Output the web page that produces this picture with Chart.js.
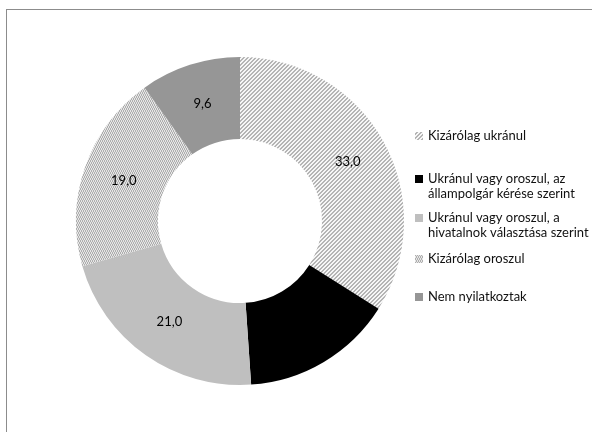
<!DOCTYPE html>
<html>
<head>
<meta charset="utf-8">
<script src="https://cdn.jsdelivr.net/npm/chart.js@4"></script>
<style>
  html, body { margin: 0; padding: 0; background: #fff; }
  #wrap { position: relative; width: 592px; height: 432px; overflow: hidden; }
  #frame { position: absolute; left: 6px; top: 9px; width: 620px; height: 460px; border: 1px solid #8c8c8c; box-sizing: border-box; }
  canvas { position: absolute; left: 0; top: 0; }
</style>
</head>
<body>
<div id="wrap">
  <div id="frame"></div>
  <canvas id="langChart" width="592" height="432"></canvas>
</div>
<script>
// nyelvhasználat megoszlása (%)
var categories = [
    'Kizárólag ukránul',
    ['Ukránul vagy oroszul, az', 'állampolgár kérése szerint'],
    ['Ukránul vagy oroszul, a', 'hivatalnok választása szerint'],
    'Kizárólag oroszul',
    'Nem nyilatkoztak'
];
var values = [33.0, 14.5, 21.0, 19.0, 9.6];

// legend row positions (y of first text line)
var legendRows = [136, 179, 218, 259, 297];

function makePattern(size, paint) {
    var c = document.createElement('canvas');
    c.width = size; c.height = size;
    var g = c.getContext('2d');
    for (var y = 0; y < size; y++) {
        for (var x = 0; x < size; x++) {
            g.fillStyle = paint(x, y);
            g.fillRect(x, y, 1, 1);
        }
    }
    return g.createPattern(c, 'repeat');
}

var ctx = document.getElementById('langChart').getContext('2d');

// upward diagonal stripes
var diagFill = makePattern(8, function (x, y) {
    return ((x + y) % 4 < 2) ? '#b4b4b4' : '#f6f6f6';
});
// fine vertical weave
var vertFill = makePattern(4, function (x, y) {
    var shift = (y % 4 < 2) ? 0 : 1;
    return ((x + shift) % 2 === 0) ? '#aeaeae' : '#e6e6e6';
});

var fills = [diagFill, '#000000', '#bfbfbf', vertFill, '#969696'];

var labelPlugin = {
    id: 'sliceLabels',
    afterDatasetsDraw: function (chart) {
        var c = chart.ctx;
        var meta = chart.getDatasetMeta(0);
        c.save();
        c.font = '13px Lato, "Open Sans", sans-serif';
        c.fillStyle = '#000';
        c.textAlign = 'center';
        c.textBaseline = 'middle';
        meta.data.forEach(function (arc, i) {
            var p = arc.tooltipPosition();
            c.fillText(values[i].toFixed(1).replace('.', ','), p.x, p.y);
        });
        c.restore();
    }
};

var legendPlugin = {
    id: 'sideLegend',
    afterDraw: function (chart) {
        var c = chart.ctx;
        c.save();
        c.font = '13px Lato, "Open Sans", sans-serif';
        c.textBaseline = 'middle';
        c.textAlign = 'left';
        chart.data.labels.forEach(function (lab, i) {
            var lines = Array.isArray(lab) ? lab : [lab];
            var y = legendRows[i];
            c.fillStyle = chart.data.datasets[0].backgroundColor[i];
            c.fillRect(415, y - 4, 8, 8);
            c.fillStyle = '#111';
            lines.forEach(function (t, k) {
                c.fillText(t, 428, y + k * 14.5);
            });
        });
        c.restore();
    }
};

new Chart(ctx, {
    type: 'doughnut',
    data: {
        labels: categories,
        datasets: [{
            data: values,
            backgroundColor: fills,
            borderWidth: 0
        }]
    },
    options: {
        responsive: false,
        animation: false,
        cutout: '50%',
        rotation: 0,
        layout: {
            padding: { left: 76, right: 188, top: 57, bottom: 47 }
        },
        plugins: {
            legend: { display: false },
            tooltip: { enabled: false }
        }
    },
    plugins: [labelPlugin, legendPlugin]
});
</script>
</body>
</html>
